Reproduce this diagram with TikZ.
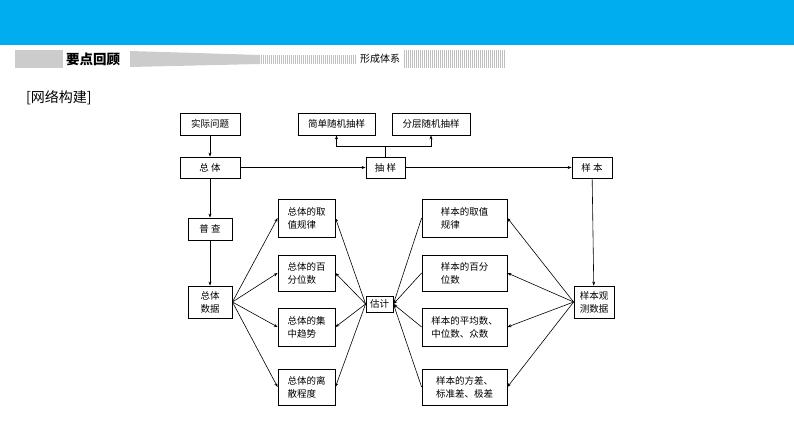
\documentclass[tikz,border=0pt]{standalone}
\usepackage{fontspec}
\setmainfont{Noto Sans CJK SC}
\usetikzlibrary{arrows.meta}
\definecolor{hb}{HTML}{00AEEF}
\begin{document}
\begin{tikzpicture}[x=1pt,y=-1pt,
  bx/.style={draw,thick,fill=white,inner sep=0pt,font=\fontsize{9.5}{13}\selectfont,align=left},
  ar/.style={-{Stealth[length=4pt,width=3pt]},semithick},
  ln/.style={semithick}]
\useasboundingbox (0,0) rectangle (794,447);
\fill[white] (0,0) rectangle (794,447);
\fill[hb] (0,0) rectangle (794,45);
\fill[gray!40] (15,50) rectangle (63,68);
\node[font=\fontsize{13.5}{14}\selectfont\bfseries,anchor=west,inner sep=0pt] (h1) at (66,59) {要点回顾};
\fill[gray!40] (130,51) -- (260,55) -- (260,64) -- (130,67) -- cycle;
\foreach \i in {0,...,47} {\draw[gray!50,line width=0.4pt] (261+2*\i,55) -- (261+2*\i,64);}
\node[font=\fontsize{10}{10}\selectfont,anchor=west,inner sep=0pt] (h2) at (360,59) {形成体系};
\foreach \i in {0,...,50} {\draw[gray!50,line width=0.4pt] (404+2*\i,50) -- (404+2*\i,68);}
\node[font=\fontsize{14}{14}\selectfont,anchor=west,inner sep=0pt] (h3) at (26,98) {[网络构建]};
% nodes
\node[bx,minimum width=60,minimum height=22] (sj) at (210,124) {实际问题};
\node[bx,minimum width=60,minimum height=21] (zt) at (210,167.5) {总\ 体};
\node[bx,minimum width=39,minimum height=21] (cy) at (385.5,167.5) {抽\ 样};
\node[bx,minimum width=40,minimum height=21] (yb) at (592,167.5) {样\ 本};
\node[bx,minimum width=77,minimum height=22] (jd) at (336.5,124) {简单随机抽样};
\node[bx,minimum width=78,minimum height=22] (fc) at (431,124) {分层随机抽样};
\node[bx,minimum width=44,minimum height=22] (pc) at (210,229) {普\ 查};
\node[bx,minimum width=44,minimum height=32,align=center] (ztsj) at (210,302) {总体\\数据};
\node[bx,minimum width=27,minimum height=16] (gj) at (379.5,304) {估计};
\node[bx,minimum width=40,minimum height=32,align=center] (ybsj) at (594,302) {样本观\\测数据};
\node[bx,minimum width=57,minimum height=38] (l1) at (306.5,218) {总体的取\\值规律};
\node[bx,minimum width=57,minimum height=36] (l2) at (306.5,273) {总体的百\\分位数};
\node[bx,minimum width=57,minimum height=38] (l3) at (306.5,327) {总体的集\\中趋势};
\node[bx,minimum width=57,minimum height=36] (l4) at (306.5,387) {总体的离\\散程度};
\node[bx,minimum width=85,minimum height=38] (r1) at (464.5,218) {样本的取值\\规律};
\node[bx,minimum width=85,minimum height=36] (r2) at (464.5,273) {样本的百分\\位数};
\node[bx,minimum width=85,minimum height=38] (r3) at (464.5,327) {样本的平均数、\\中位数、众数};
\node[bx,minimum width=85,minimum height=36] (r4) at (464.5,387) {样本的方差、\\标准差、极差};
% connectors
\draw[ar] (sj) -- (zt);
\draw[ar] (zt) -- (cy);
\draw[ar] (cy) -- (yb);
\draw[ar] (zt) -- (pc);
\draw[ar] (pc) -- (ztsj);
\draw[ar] (yb) -- (ybsj);
\coordinate (b) at (385.5,146);
\draw[ln] (cy.north) -- (b);
\draw[ar] (b) -| (jd.south);
\draw[ar] (b) -| (fc.south);
\foreach \n in {l1,l2,l3,l4} {
  \draw[ar] (ztsj.east) -- (\n.west);
  \draw[ar] (gj.west) -- (\n.east);}
\foreach \n in {r1,r2,r3,r4} {
  \draw[ar] (ybsj.west) -- (\n.east);
  \draw[ar] (\n.west) -- (gj.east);}
\end{tikzpicture}
\end{document}
